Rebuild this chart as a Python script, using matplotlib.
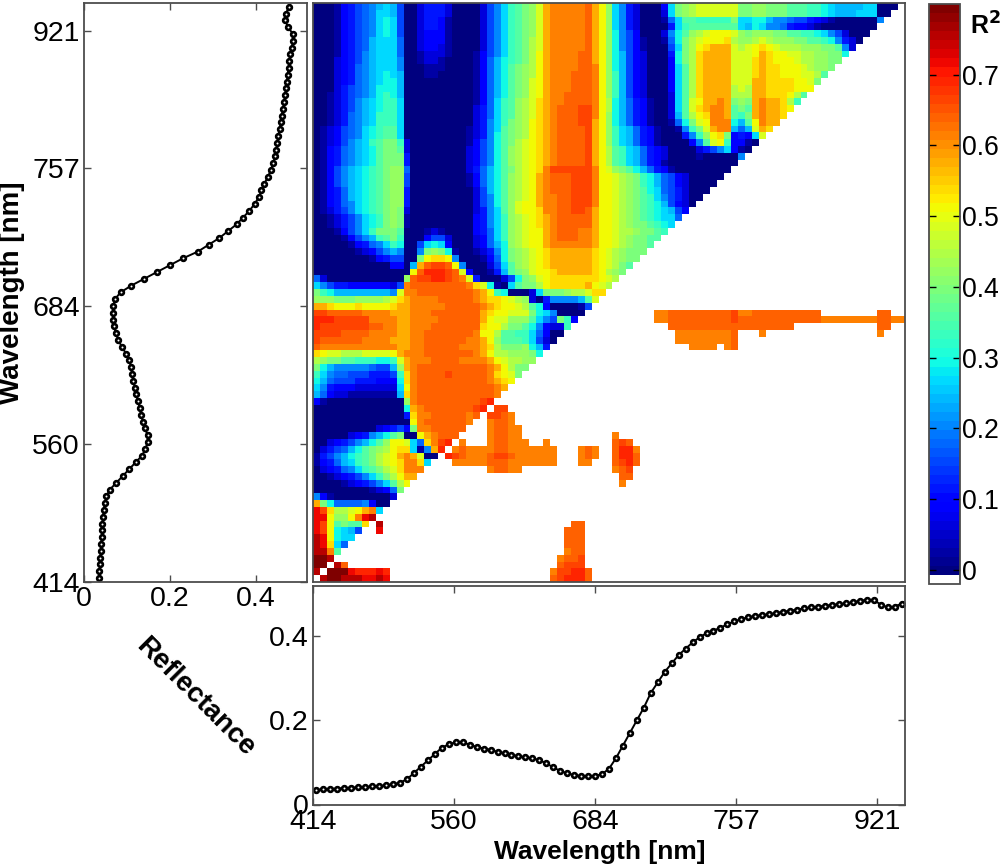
import numpy as np
import matplotlib
matplotlib.use('Agg')
import matplotlib.pyplot as plt
from matplotlib.colors import ListedColormap, Normalize

plt.rcParams['font.family'] = ['Liberation Sans', 'DejaVu Sans']

wavelength_labels = ['414', '560', '684', '757', '921']
# band index where each wavelength label sits
wavelength_ticks = [0, 20.25, 40.5, 60.75, 81]
reflect_ticks = [0, 0.2, 0.4]
reflect_labels = ['0', '0.2', '0.4']
r2_ticks = [0, 0.1, 0.2, 0.3, 0.4, 0.5, 0.6, 0.7]
r2_labels = ['0', '0.1', '0.2', '0.3', '0.4', '0.5', '0.6', '0.7']

reflectance = [
    .035, .036, .037, .038, .039, .040, .041, .042, .043, .044,
    .046, .048, .052, .060, .075, .090, .105, .120, .135, .143,
    .148, .148, .142, .137, .133, .130, .125, .122, .118, .115,
    .112, .110, .105, .098, .088, .080, .074, .070, .068, .067,
    .068, .072, .085, .110, .140, .170, .200, .230, .265, .290,
    .315, .335, .355, .370, .385, .397, .407, .413, .420, .428,
    .435, .440, .445, .448, .450, .452, .455, .458, .460, .463,
    .466, .468, .470, .472, .474, .476, .478, .480, .484, .486,
    .486, .475, .468, .470, .477,
]

# R2, one letter per cell, see r2_levels; . = blank
r2_rows = [
    'AAABDEFGHI JIFAACEEEC AAAACFHJLM NOQTUUUUUV TROJHECAAA DJNOPQQQQQ QNNOONNNMM MLLKJIIIIJ JAAA.',
    'AAABDEFGHJ JIFAACEEEC AAAACFHJLM NOQTUUUUUV TROJHECAAA CJNOPQQQQQ QNNOONNNMM MLLKJIIIJJ JAA..',
    'AAABDEFGHJ KJFAACEEDB AAAACFHJLM NOQTUUUUUV TROJHECAAA BGJMMLLLLL NJJKKIHHGF FEDCBAAAAA AH...',
    'AAABDEFGHJ KJFAACEEDB AAAACFHJLM NOQTUUUUUV TROJHECAAA AEJLMMMMMM MJIKJHHGED DCBAAAAAAA A....',
    'AAABDEFGHJ KJFAACDDDB AAAACFHJLM NOQTUUUUUV TROKHFDAAA CHKMOPQRRR QONOOONNMM LLKJHFCAAA .....',
    'AAABDEFGIJ JJGAACDDDB AAAACFHJLM NPQTUUUUUV TROKHFDBAA BGKNPQRRRS POOPQPOOON NMMLKHECA. .....',
    'AAABDEFGIJ JJGAACDDCB AAAACFHJLM NPQTUUUUUV TROKHFDBAA AFJNPRSTTT QPQRSRQPPP OOONNMHC.. .....',
    'AAABDEFHIJ JJGAABCCCB AAABDFHJLM NPRTUUUUVV TROKIFDCAA AEKNPSTTTT QQQRTSRRQQ PPOONNK... .....',
    'AAACDEFHIJ JJHAABCCBA AAABDGIKLM NPRTUUUUVV TROKIFDCAA ADKNPSTTTT QQQSTSRRRQ PPOONN.... .....',
    'AAACDEGHIJ JJHAAABBBA AAABDGIKMN OPRTUUUUVV UROKIFDCAA ADJMPSTTTT QQQSTSSRRR QPOON..... .....',
    'AAACDEGHIJ KJIAAABBAA AAABDGIKMN OPRTUUUVVV UROLIFDCAA ADJMPSTTTT QQQSTSSRRR QQPM...... .....',
    'AAACDEGHIJ KKIAAAAAAA AAABDGIKMN OQRTUUUVVV UROLIFDCAA ADJMPSTTTT QQQTTSSSSR RQN....... .....',
    'AAACEFGHIK KKIAAAAAAA AAABDGIKMN OQRTUUUVVV UROLIFDCAA ADJMPSTTTT PQPTTSSSSR RR........ .....',
    'AABCEFGHIK LKIAAAAAAA AAABDGIKMN OQRTUUVVVV UROLIFDCAA ACJMPSTTTT PPPTTSSSRP M......... .....',
    'AABCEFHIJK LLJAAAAAAA AAABDGJLMO PQSTUUVVVV URPKIGEDBA ACJMQRTTUT NONTUTTSPL .......... .....',
    'AABCEFHIJK LLJAAAAAAA AAACEGJLMO PQSTUVVVWW URPKIGEDBA ACJMQSTUUT MNMTUTTSR. .......... .....',
    'AABCEGHIJL LLJAAAAAAA AAACEGJLMO PQSTUVVVWW UROKIGEDBA ACIMPRSUUT MLNTUTTS.. .......... .....',
    'AABCEGHIJL LLJAAAAAAA AAACEHJLNO PRSTUVVVWW TROKIGEDBA ABGKNQRUUU KIMRUTT... .......... .....',
    'ABCDFGHJKL MMJAAAAAAA AABCEHJMNO PRSTUVVVVW TROLJIGEDB AABHLNQTUU IGIQTS.... .......... .....',
    'ABCDFGHJKL MMJAAAAAAA AABCEHKMNO PRSTUVVVVW TROLJIGEDB AAAEHLORSN DEDJQ..... .......... .....',
    'ABCDFHIJLM NNLCAAAAAA AABDFHKMNP QRSTUVVVVW TROLJIGEDB AAAADHMQRL DDBA...... .......... .....',
    'ABDEGHIJKM NNMCAAAAAA AACDFHKMOP QRSTUVVVVW TRPMLJIGED CAAAACEFHJ DBA....... .......... .....',
    'ABDEGHIJKM NNNEAAAAAA AACDFHKMOP QRSTUVVVVW TRPMLJIGED CAAAABAAAA AH........ .......... .....',
    'ABDEGHIJKM NNNEAAAAAA AACDFHKMOP QRSTUVVVVW TRPMLJIGED BAAAAAAAAA A......... .......... .....',
    'ABDFHIJKLM NOOGAAAAAA AACEGIKMNP QRSUWWWWWW URQONMKIGE DBAAAAAAAA .......... .......... .....',
    'ABDFHIJKLM NOOFAAAAAA AABDGIKMOP QRTUVVVWWW URRQPONLKI GFDCAAAAA. .......... .......... .....',
    'ABDFHIJKLM NOOFAAAAAA AABDGIKMOP QRTUVVVWWW URRQPONLKI GFDCAAAA.. .......... .......... .....',
    'ABDEGIJKLM NOOEAAAAAA AAACFIKMOP QRTUVVVWWW URRQPONMKJ GFECAAA... .......... .......... .....',
    'ABDEGIJKLM NOOEAAAAAA AAACFHKMOP QRTUUVVWWW URRQPONMLJ HFECAA.... .......... .......... .....',
    'ABDEGHJKLM NOOEAAAAAA AAACFHKMOQ RRTUUVVWWW URRQPONMLK IFDCA..... .......... .......... .....',
    'ABCEFHJKLM NONCAAAAAA AAACEHJMOQ RRSUUVVWWV TRRQPONMLK JIFD...... .......... .......... .....',
    'AABCEFHJKL NONBAAAAAA AAADEHJLOP QRSTUVVVVV TRRQPONMLK JJG....... .......... .......... .....',
    'AABCEFHJKL NONBAAAAAA AAADEHJLOP QRSTUVVVVV TRRQPONNML KJ........ .......... .......... .....',
    'AAABDFHJLN NNMAAABCBA AAADEGJLOP QRRTUVVVUU TRRQPPONNM L......... .......... .......... .....',
    'AAAABDFHIL MNLAAADFFC AAACDGJLOP QRRTUVVVUU TRRQPONNMM .......... .......... .......... .....',
    'AAAAABDEGH JLKAAFJKJD AAACDGIKOP QRRTUUUUUU TRRQPONNM. .......... .......... .......... .....',
    'AAAAAABCDF HIHAAHNONK BAABCEHKNO PQRSTTTTTT SRQPONNN.. .......... .......... .......... .....',
    'AAAAAAAABD EFFAANRSSR HAAABDGKNO PQRSTTTTTT SRQPONN... .......... .......... .......... .....',
    'AAAAAAAAAA ADDAITVWWV RHAAACFJMO PQRSTTTTTT SRQPNM.... .......... .......... .......... .....',
    'AAAAAAAAAA AAAARVXXXW VQDAABEIMN OQRRSTTTTT SRPON..... .......... .......... .......... .....',
    'GCAAAAAAAA AAAOVWWXXW VUQEAAACFK NOQRSSSSSS SRQP...... .......... .......... .......... .....',
    'JHFEEDDDDD DCFUVVVVVV VVUSQKBAJM NNPRSSSSST RQP....... .......... .......... .......... .....',
    'NLKIIIIIII IHQUUVVVVV VVVUTRLKAA ACJNNNOPPQ SS........ .......... .......... .......... .....',
    'OOONNNOOOO PQSTUUUUVV VVVUTSSRQP OCAEHHHHIM Q......... .......... .......... .......... .....',
    'TTSRRRSRRR RSTTUUUUUV VVVVUTSRRQ PMKDAAAABF .......... .......... .......... .......... .....',
    'WWVVVVVUUU UTTTUUUVVV VVVVTSRRQQ QNKJHAAAA. .........U UVVVVVVVVV WUUVVVVVVV VVV....... .VV..',
    'XXXWWWWWUU UUTTUUUUVV VVVVTRQQOO OMJHFNLD.. .........U UVVVVVVVVV WVVVVVVVVV VVVUUUUUUU UVVUU',
    'XWWWWWWWVV UUTTUUUVVV VVVVSRRPNN MKHDCCL... .......... .VVVVVVVVV VVVVVVVVV. .......... .VV..',
    'WWWWVVVVUU UUTTUUVVVV VVVURRPMML LJGDAA.... .......... ..UUUUUUUU V...U..... .......... .U...',
    'WVVVVVVUUU UTTTUUVVVV VVUUTROMMM LJFCA..... .......... ..UUUUUUUU V......... .......... .....',
    'VUUUUUUUUU UUTTUUVVVV VUUUTSPNNN OKIE...... .......... ....UUUU.U V......... .......... .....',
    'SRQQPPPQQQ QRTUUUVVVV VVVUTRPPOO ONK....... .......... .......... .......... .......... .....',
    'PONNMMLLLK KLQTUUUVVV VUUUUTRQPP OO........ .......... .......... .......... .......... .....',
    'NKIHHHHHGF FIOTUVVVVV VVVVVUTRPN N......... .......... .......... .......... .......... .....',
    'LJHGGFFFEE EFLSUVVVVW VVVVVUSRQN .......... .......... .......... .......... .......... .....',
    'KIGFFFEEED DDKSUVVVVV VVVVVUTSR. .......... .......... .......... .......... .......... .....',
    'JHEDDDCCCC CCJRUVVVVV VVVVVVUT.. .......... .......... .......... .......... .......... .....',
    'IGDCCBBBBB BBISUVVVVV VVVVVVU... .......... .......... .......... .......... .......... .....',
    'DBAAAAAAAA AAAOUVVVVV VVVVWX.... .......... .......... .......... .......... .......... .....',
    'AAAAAAAAAA AAAKTUVVVV VVVWX.WW.. .......... .......... .......... .......... .......... .....',
    'AAAAAAAAAA AAAESUUVVV VVUV.WWVU. .......... .......... .......... .......... .......... .....',
    'AAAAAAAAAA AAAARUVVVV VVU..UVVU. .......... .......... .......... .......... .......... .....',
    'AAAAAAAAAC DEFDNUUVVV VV...UVVUU .......... .......... .......... .......... .......... .....',
    'AAAAACDEHI KMNAARTUVV V....UVVUU .......... ...U...... .......... .......... .......... .....',
    'AACDEFHIKM ORRQJGSUWX .U...UVVUU U..U...... ...VWV.... .......... .......... .......... .....',
    'ACEFGIKMNO PRSSJBHTX. UVUUUUVVUU UUUUU...UV U..VXXU... .......... .......... .......... .....',
    'BEFHIKLMNP QRTUTQAA.X WVUUUVWWVU UUUUU...UV U..VXXV... .......... .......... .......... .....',
    'BDEGIJLMNP QRSUUSJ... UUUUUVVVUU UUUUU...UU ...VWXV... .......... .......... .......... .....',
    'ACDEGHJLMN PQSUUU.... .....UVVUU .......... ...UVW.... .......... .......... .......... .....',
    'AABCDEFHJL NPRTT..... .......... .......... ....VV.... .......... .......... .......... .....',
    'AAAABCDEFH JMPR...... .......... .......... ....U..... .......... .......... .......... .....',
    'AAAAAAAABC DGN....... .......... .......... .......... .......... .......... .......... .....',
    'HDBAAAAAAA AC........ .......... .......... .......... .......... .......... .......... .....',
    'TNKGGGGHDA A......... .......... .......... .......... .......... .......... .......... .....',
    'YWSPPQRTUJ .......... .......... .......... .......... .......... .......... .......... .....',
    'YYROORUYZ. .......... .......... .......... .......... .......... .......... .......... .....',
    'YWRMNMMS.Z .......... .......... .......VV. .......... .......... .......... .......... .....',
    'YWRKJIF..Y .......... .......... ......VVV. .......... .......... .......... .......... .....',
    'ZYRKJJ.... .......... .......... ......VVV. .......... .......... .......... .......... .....',
    'ZYSJG..... .......... .......... ......VVV. .......... .......... .......... .......... .....',
    'ZZUM...... .......... .......... ......UVV. .......... .......... .......... .......... .....',
    '##Z....... .......... .......... .....UVVW. .......... .......... .......... .......... .....',
    '##.ZV..... .......... .......... .....VWWW. .......... .......... .......... .......... .....',
    'Z.###YXXXY X......... .......... ....UWWXXV .......... .......... .......... .......... .....',
    '.Z##ZZZYYZ Y......... .......... ....VWXXXV .......... .......... .......... .......... .....',
]

r2_letters = 'ABCDEFGHIJKLMNOPQRSTUVWXYZ#'
r2_levels = [0, .03, .06, .09, .12, .15, .18, .21, .24, .27, .30, .33, .36, .39, .42, .45, .48,
             .51, .54, .575, .612, .638, .665, .69, .72, .75, .79]
letter_value = dict(zip(r2_letters, r2_levels))
letter_value['.'] = np.nan
r2 = np.array([[letter_value[c] for c in row.replace(' ', '')] for row in r2_rows])

W, H = 1000.0, 868.0
def box(left, top, right, bottom):
    return [left / W, 1 - bottom / H, (right - left) / W, (bottom - top) / H]

fig = plt.figure(figsize=(10, 8.68), dpi=100)
ax_map = fig.add_axes(box(313, 3.3, 905, 581.5))
ax_left = fig.add_axes(box(84, 3.3, 307, 581.5))
ax_low = fig.add_axes(box(313, 586, 905, 804.5))
ax_bar = fig.add_axes(box(929, 4, 960, 584))

edge = '#4d4d4d'
tick_fs = 20.5

jet = plt.get_cmap('jet', 63)(np.arange(63))
cmap = ListedColormap(np.vstack([[1, 1, 1, 1], jet]))
cmap.set_bad('white')
norm = Normalize(-0.02, 0.8)

im = ax_map.imshow(r2, cmap=cmap, norm=norm, aspect='auto', interpolation='nearest',
                   extent=[0, r2.shape[1], 0, r2.shape[0]])
ax_map.set_xticks([])
ax_map.set_yticks([])

bands = np.arange(len(reflectance)) + 0.5
ax_left.plot(reflectance, bands, '-o', color='k', lw=1.4, ms=3.4, mew=1.9, mfc='white')
ax_left.set_xlim(0, 0.519)
ax_left.set_ylim(0, 85)
ax_left.set_yticks(wavelength_ticks, wavelength_labels)
ax_left.set_xticks(reflect_ticks, reflect_labels)

ax_low.plot(bands, reflectance, '-o', color='k', lw=1.4, ms=3.4, mew=1.9, mfc='white')
ax_low.set_xlim(0, 85)
ax_low.set_ylim(0, 0.519)
ax_low.set_xticks(wavelength_ticks, wavelength_labels)
ax_low.set_yticks(reflect_ticks, reflect_labels)

for ax in [ax_left, ax_low]:
    ax.tick_params(direction='in', top=True, right=True, length=5, width=1, color=edge,
                   labelsize=tick_fs, pad=3)

cb = fig.colorbar(im, cax=ax_bar)
cb.set_ticks(r2_ticks, labels=r2_labels)
cb.ax.tick_params(direction='in', left=True, right=True, length=5, width=1, color='k',
                  labelsize=19.2, pad=1.5)
cb.outline.set_edgecolor(edge)
cb.outline.set_linewidth(1.3)

for ax in [ax_map, ax_left, ax_low]:
    for s in ax.spines.values():
        s.set_edgecolor(edge)
        s.set_linewidth(1.3)

fig.text(12 / W, 1 - 293 / H, 'Wavelength [nm]', rotation=90, ha='center', va='center',
         fontsize=20, fontweight='bold')
fig.text(600 / W, 1 - 852 / H, 'Wavelength [nm]', ha='center', va='center',
         fontsize=19, fontweight='bold')
fig.text(195 / W, 1 - 697 / H, 'Reflectance', rotation=-45, ha='center', va='center',
         fontsize=20, fontweight='bold')
fig.text(970 / W, 1 - 26 / H, 'R$\\mathbf{^2}$', ha='left', va='center',
         fontsize=18, fontweight='bold')

fig.savefig('out.png', dpi=100)
